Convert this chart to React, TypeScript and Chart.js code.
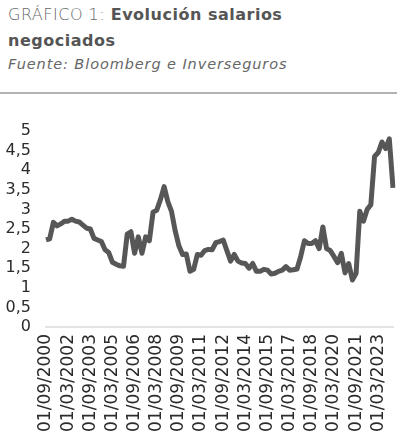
import React, { useEffect, useRef } from "react";
import { Chart, registerables } from "chart.js";

Chart.register(...registerables);

// Quarterly observations starting 01/09/2000
const startYear = 2000;
const startMonth = 9;
const values = [
  2.22, 2.25, 2.67, 2.58, 2.63, 2.7, 2.7, 2.75, 2.7, 2.68,
  2.6, 2.52, 2.5, 2.26, 2.22, 2.18, 1.97, 1.9, 1.65, 1.6,
  1.56, 1.55, 2.37, 2.43, 1.88, 2.3, 1.88, 2.3, 2.2, 2.93,
  2.98, 3.25, 3.58, 3.2, 2.95, 2.45, 2.07, 1.85, 1.86, 1.42,
  1.47, 1.85, 1.83, 1.95, 1.98, 1.97, 2.15, 2.18, 2.22, 1.95,
  1.68, 1.85, 1.68, 1.63, 1.62, 1.5, 1.62, 1.42, 1.42, 1.47,
  1.45, 1.35, 1.37, 1.42, 1.45, 1.54, 1.45, 1.46, 1.48, 1.8,
  2.2, 2.13, 2.13, 2.2, 2.0, 2.55, 2.0, 1.95, 1.8, 1.64,
  1.88, 1.38, 1.62, 1.2, 1.37, 2.95, 2.7, 3.0, 3.12, 4.35,
  4.45, 4.72, 4.55, 4.8, 3.55,
];

const tickLabels = [
  "01/09/2000", "01/03/2002", "01/09/2003", "01/03/2005", "01/09/2006",
  "01/03/2008", "01/09/2009", "01/03/2011", "01/09/2012", "01/03/2014",
  "01/09/2015", "01/03/2017", "01/09/2018", "01/03/2020", "01/09/2021",
  "01/03/2023",
];

const categories = values.map((_, i) => {
  const total = startMonth - 1 + 3 * i;
  const y = startYear + Math.floor(total / 12);
  const m = (total % 12) + 1;
  return `01/${m < 10 ? "0" + m : m}/${y}`;
});

const FONT = "'DejaVu Sans', sans-serif";

export default function App() {
  const ref = useRef<HTMLCanvasElement | null>(null);

  useEffect(() => {
    if (!ref.current) return;
    const chart = new Chart(ref.current, {
      type: "line",
      data: {
        labels: categories,
        datasets: [
          {
            data: values,
            borderColor: "#575757",
            borderWidth: 5,
            pointRadius: 0,
            tension: 0,
            borderJoinStyle: "round",
            borderCapStyle: "butt",
            fill: false,
          },
        ],
      },
      options: {
        responsive: false,
        maintainAspectRatio: false,
        animation: false,
        layout: { padding: { top: 31, right: 4, left: 0, bottom: 0 } },
        plugins: { legend: { display: false }, tooltip: { enabled: false } },
        scales: {
          x: {
            type: "category",
            offset: false,
            grid: { display: false, drawTicks: false },
            border: { display: true, color: "#e4e4e4", width: 2 },
            ticks: {
              autoSkip: false,
              maxRotation: 90,
              minRotation: 90,
              padding: 7,
              color: "#2b2b2b",
              font: { family: FONT, size: 17 },
              callback: (_v: any, index: number) => {
                const lab = categories[index];
                return tickLabels.includes(lab) ? lab : "";
              },
            },
            afterFit: (s: any) => {
              s.height = 115;
              s.paddingLeft = 0;
              s.paddingRight = 0;
            },
          },
          y: {
            min: 0,
            max: 5,
            grid: { display: false, drawTicks: false },
            border: { display: false },
            ticks: {
              stepSize: 0.5,
              autoSkip: false,
              padding: 15,
              color: "#2b2b2b",
              font: { family: FONT, size: 16 },
              callback: (v: any) => String(v).replace(".", ","),
            },
            afterFit: (s: any) => {
              s.width = 46;
              s.paddingTop = 0;
              s.paddingBottom = 0;
            },
          },
        },
      },
    });
    return () => chart.destroy();
  }, []);

  return (
    <div
      style={{
        position: "absolute",
        left: 0,
        top: 0,
        width: 397,
        height: 442,
        background: "#fff",
        overflow: "hidden",
      }}
    >
      <div
        style={{
          position: "absolute",
          left: 8,
          top: 2,
          fontFamily: FONT,
          fontSize: 16,
          letterSpacing: "0.5px",
          lineHeight: "26px",
          color: "#555",
          whiteSpace: "nowrap",
        }}
      >
        <span style={{ fontWeight: 300, color: "#666" }}>GRÁFICO 1: </span>
        <span style={{ fontWeight: 700 }}>Evolución salarios</span>
        <br />
        <span style={{ fontWeight: 700 }}>negociados</span>
      </div>
      <div
        style={{
          position: "absolute",
          left: 8,
          top: 56,
          fontFamily: FONT,
          fontSize: 14.5,
          letterSpacing: "0.9px",
          fontStyle: "italic",
          color: "#666",
          whiteSpace: "nowrap",
        }}
      >
        Fuente: Bloomberg e Inverseguros
      </div>
      <div
        style={{
          position: "absolute",
          left: 0,
          top: 92,
          width: 397,
          height: 2,
          background: "#b3b3b3",
        }}
      />
      <canvas
        ref={ref}
        width={397}
        height={342}
        style={{ position: "absolute", left: 0, top: 100, width: 397, height: 342 }}
      />
    </div>
  );
}
